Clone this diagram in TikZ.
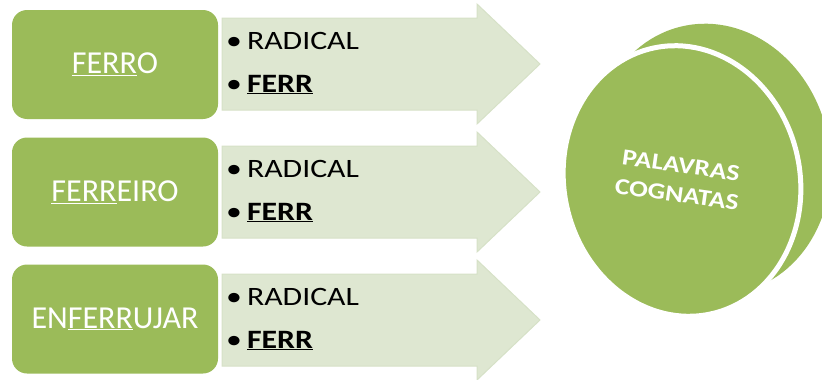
\documentclass[tikz,border=0pt]{standalone}
\usepackage{fontspec}
\setmainfont{Carlito}
\newfontfamily\widefont{Carlito}[FakeStretch=1.2]
\usetikzlibrary{shapes.geometric}
\definecolor{leafgreen}{RGB}{155,187,89}
\definecolor{palegreen}{RGB}{222,231,209}
\definecolor{paleedge}{RGB}{214,225,199}
\tikzset{
  wordbox/.style={fill=leafgreen, rounded corners=15pt, minimum width=206pt,
    minimum height=109pt, inner sep=0pt, text=white, font=\fontsize{32}{36}\selectfont},
  arrowbody/.style={fill=palegreen, draw=paleedge, line width=1pt, line join=miter},
  bulletline/.style={anchor=base west, inner sep=0pt, text=black,
    font=\widefont\fontsize{26.5}{30}\selectfont},
  disc/.style={ellipse, fill=leafgreen, minimum width=236pt, minimum height=272pt,
    inner sep=0pt, rotate=12},
}
\newcommand{\rootline}[1]{\underline{#1}}
\begin{document}
\begin{tikzpicture}[x=1pt,y=-1pt]
  \useasboundingbox (0,0) rectangle (822,380);
  \clip (0,0) rectangle (822,380);

  % arrows carrying the root, drawn from the bottom up so upper heads overlap
  \foreach \yc/\nm in {320/three,192/two,64/one}{
    \draw[arrowbody] (222,\yc-46) -- (477,\yc-46) -- (477,\yc-60) -- (540,\yc)
      -- (477,\yc+60) -- (477,\yc+46) -- (222,\yc+46) -- cycle;
    \node[bulletline] (radical\nm) at (226,\yc-15) {\textbullet\hspace{5pt}RADICAL};
    \node[bulletline] (root\nm) at (226,\yc+28) {\textbullet\hspace{5pt}\textbf{\rootline{FERR}}};
  }

  % the three words
  \node[wordbox] (ferro) at (115,64.5) {\rootline{FERR}O};
  \node[wordbox] (ferreiro) at (115,192) {\rootline{FERR}EIRO};
  \node[wordbox] (enferrujar) at (115,319) {EN\rootline{FERR}UJAR};

  % the disc of related words
  \node[disc] (back) at (712,159) {};
  \node[disc, draw=white, line width=5pt] (front) at (682,181) {};
  \node[rotate=-8, text=white, align=center,
    font=\widefont\bfseries\fontsize{23}{29}\selectfont]
    (cognatas) at (679,180) {PALAVRAS\\COGNATAS};
\end{tikzpicture}
\end{document}
